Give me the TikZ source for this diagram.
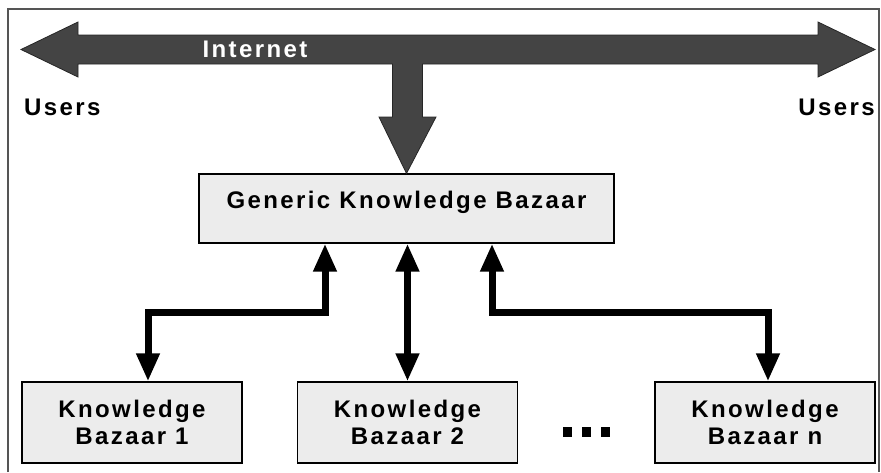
\documentclass[tikz,border=0pt]{standalone}
\usepackage{fontspec}
\newfontfamily\diafont{Liberation Sans}[LetterSpace=10]
\usetikzlibrary{arrows.meta,calc}
\definecolor{bigarrow}{RGB}{68,68,68}
\definecolor{boxfill}{RGB}{236,236,236}
\definecolor{framecol}{RGB}{85,85,85}
\begin{document}
\begin{tikzpicture}[x=1pt,y=-1pt,
  txt/.style={font=\diafont\bfseries\fontsize{24}{27}\selectfont, inner sep=0pt},
  kbox/.style={txt, draw=black, line width=1.2pt, fill=boxfill, minimum width=220pt, minimum height=81pt, align=center},
  gbox/.style={txt, draw=black, line width=1.2pt, fill=boxfill, minimum width=415pt, minimum height=69pt, text height=8pt, text depth=8pt},
  link/.style={line width=7pt, {Triangle[length=28pt,width=22pt]}-{Triangle[length=28pt,width=22pt]}},
  dotsq/.style={fill=black, minimum width=9pt, minimum height=10pt, inner sep=0pt},
]
\useasboundingbox (0,0) rectangle (881,472);
% frame
\draw[framecol, line width=1.5pt] (8,472) -- (8,9) -- (879,9) -- (879,472);
% boxes
\node[gbox] (gk) at (406.5,208.5) {Generic Knowledge Bazaar};
\node[kbox] (kb1) at (132,422.5) {Knowledge\\Bazaar 1};
\node[kbox] (kb2) at (407.5,422.5) {Knowledge\\Bazaar 2};
\node[kbox] (kbn) at (765,422.5) {Knowledge\\Bazaar n};
% big internet arrow
\fill[bigarrow, draw=black!85, line width=0.8pt]
  (21,49.5) -- (78,22) -- (78,35) -- (818,35) -- (818,22) -- (875,49.5) -- (818,77)
  -- (818,64) -- (422.5,64) -- (422.5,117) -- (436,117) -- (gk.north) -- (379,117)
  -- (392.5,117) -- (392.5,64) -- (78,64) -- (78,77) -- cycle;
\node[txt, text=white, anchor=base] (inet) at (255,57) {Internet};
\node[txt, anchor=base west] (usl) at (24,115) {Users};
\node[txt, anchor=base east] (usr) at (875,115) {Users};
% connectors
\coordinate (j1) at (325,312);
\coordinate (j2) at (148,312);
\coordinate (j3) at (492,312);
\coordinate (j4) at (768,312);
\draw[link] (gk.south -| j1) -- (j1) -- (j2) -- (kb1.north -| j2);
\draw[link] (gk.south -| kb2.north) -- (kb2.north);
\draw[link] (gk.south -| j3) -- (j3) -- (j4) -- (kbn.north -| j4);
% ellipsis
\node[dotsq] (d1) at (567.5,432) {};
\node[dotsq] (d2) at (586,432) {};
\node[dotsq] (d3) at (605,432) {};
\end{tikzpicture}
\end{document}
